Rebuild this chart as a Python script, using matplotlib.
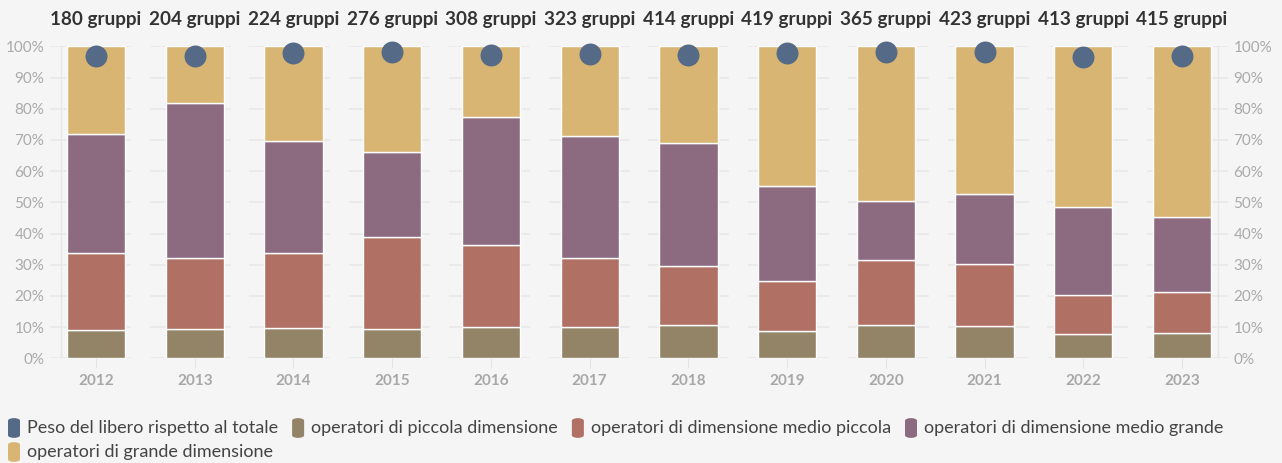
import matplotlib
matplotlib.use("Agg")
import matplotlib.pyplot as plt
from matplotlib.patches import FancyBboxPatch
import numpy as np

years = ["2012", "2013", "2014", "2015", "2016", "2017", "2018", "2019", "2020", "2021", "2022", "2023"]
gruppi = [180, 204, 224, 276, 308, 323, 414, 419, 365, 423, 413, 415]
piccola = [9.2, 9.5, 9.8, 9.4, 10.1, 10.1, 10.8, 8.7, 10.6, 10.2, 7.7, 8.0]
medio_piccola = [24.7, 22.8, 24.0, 29.4, 26.2, 22.1, 18.8, 16.0, 20.9, 19.9, 12.6, 13.2]
medio_grande = [38.1, 49.4, 35.9, 27.3, 41.2, 39.2, 39.3, 30.4, 18.9, 22.5, 28.1, 24.2]
grande = [28.0, 18.3, 30.3, 33.9, 22.5, 28.6, 31.1, 44.9, 49.6, 47.4, 51.6, 54.6]
peso_libero = [96.9, 96.9, 98.0, 98.2, 97.2, 97.6, 97.2, 98.0, 98.2, 98.1, 96.7, 96.9]

labels = ["Peso del libero rispetto al totale", "operatori di piccola dimensione",
          "operatori di dimensione medio piccola", "operatori di dimensione medio grande",
          "operatori di grande dimensione"]
colors = ["#546a87", "#938367", "#b07064", "#8c6a80", "#d9b574"]

BG = "#f5f5f5"
FONT = "Lato"
W, H = 1282, 463
fig = plt.figure(figsize=(W / 100, H / 100), dpi=100, facecolor=BG)

# axes spans x 50..1228 px, y 46.4..358.3 px
px0, px1 = 50, 1228
py_top, py_bot = 46.4, 358.3
ax = fig.add_axes([px0 / W, 1 - py_bot / H, (px1 - px0) / W, (py_bot - py_top) / H])
ax.set_facecolor(BG)
step = 98.73
x_left = (px0 - 96) / step
x_right = (px1 - 96) / step
ax.set_xlim(x_left, x_right)
ax.set_ylim(0, 100)

x = np.arange(len(years))

# per-facet gridline segments
panel_w = 81
panel_step = (px1 - px0 - panel_w) / (len(years) - 1)
for i in range(len(years)):
    l = (px0 + i * panel_step - 96) / step
    r = (px0 + i * panel_step + panel_w - 96) / step
    for v in range(0, 101, 10):
        ax.plot([l, r], [v, v], color="#e8e8e8", lw=1.2, zorder=0, solid_capstyle="butt")

# faint y axis lines at left and right
ax.axvline((61 - 96) / step, color="#e6e6e6", lw=1, zorder=0)
ax.axvline((1218 - 96) / step, color="#e6e6e6", lw=1, zorder=0)

bw = 0.59
bottom = np.zeros(len(years))
for vals, c in zip([piccola, medio_piccola, medio_grande, grande], colors[1:]):
    ax.bar(x, vals, bw, bottom=bottom, color=c, edgecolor="white", linewidth=1.0, zorder=2)
    bottom += np.array(vals)

ax.scatter(x, peso_libero, s=250, color=colors[0], zorder=4, clip_on=False, linewidths=0)

for s in ax.spines.values():
    s.set_visible(False)

ax.set_xticks(x)
ax.set_xticklabels(years, fontsize=11, fontweight="bold", color="#a8a8a8", family=FONT)
ax.tick_params(axis="x", length=7, color="#e4e4e4", pad=4)
ax.set_yticks(range(0, 101, 10))
ax.set_yticklabels([f"{v}%" for v in range(0, 101, 10)], fontsize=11, color="#aaaaaa", family=FONT)
ax.tick_params(axis="y", length=0, pad=4)
ax.tick_params(axis="y", which="both", labelright=True, labelleft=True)

# facet titles
for i, g in enumerate(gruppi):
    fig.text((96 + i * step) / W, 1 - 20 / H, f"{g} gruppi", ha="center", va="center",
             fontsize=13.6, fontweight="bold", color="#333333", family=FONT)

# legend (manual flow layout)
fig.canvas.draw()
renderer = fig.canvas.get_renderer()
row_y = [428, 452]
xcur = 8
row = 0
maxx = W - 8
for lab, c in zip(labels, colors):
    t = fig.text(0, 0, lab, fontsize=13.0, color="#444444", family=FONT, va="center")
    tw = t.get_window_extent(renderer).width
    item_w = 12 + 7 + tw
    if xcur + item_w > maxx:
        row += 1
        xcur = 8
    yc = row_y[row]
    patch = FancyBboxPatch(((xcur) / W, 1 - (yc + 10) / H), 12 / W, 20 / H,
                           boxstyle="round,pad=0,rounding_size=0.006",
                           transform=fig.transFigure, facecolor=c, edgecolor="none")
    fig.patches.append(patch)
    t.set_position(((xcur + 19) / W, 1 - yc / H))
    xcur += item_w + 14

fig.savefig("out.png", dpi=100, facecolor=BG)
